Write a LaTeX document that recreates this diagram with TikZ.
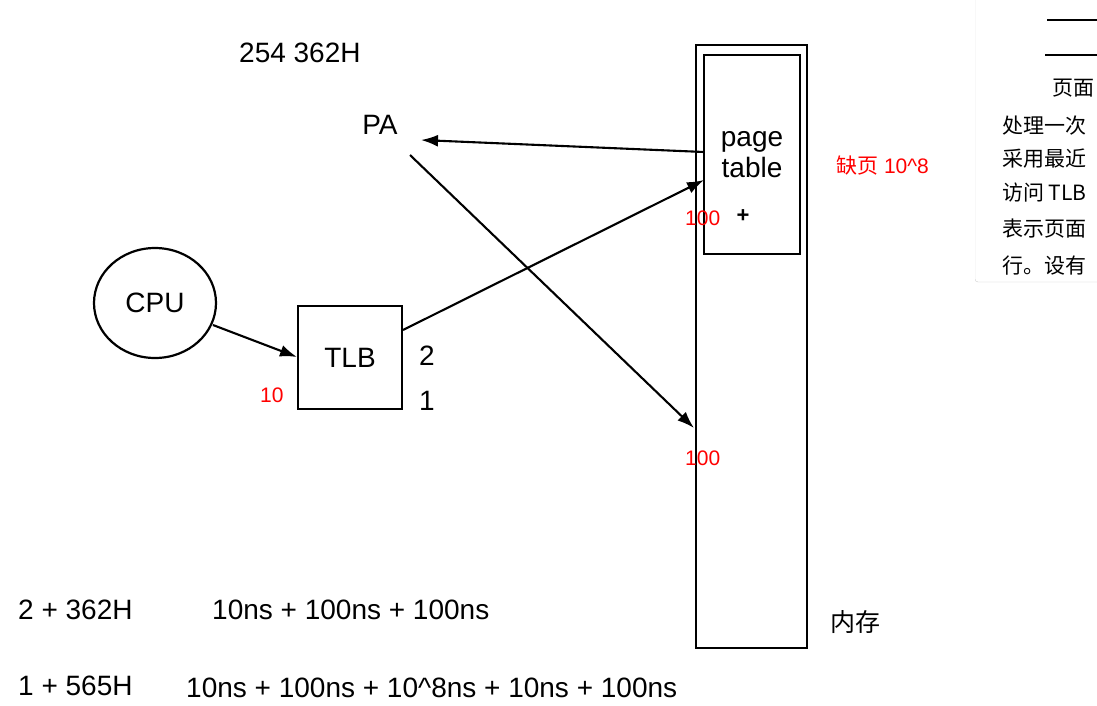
\documentclass[tikz,border=0pt]{standalone}
\usepackage{fontspec}
\setmainfont{Liberation Sans}
\newfontfamily\cjk{Noto Sans CJK SC}
\usetikzlibrary{arrows.meta,shapes.geometric}
\begin{document}
\begin{tikzpicture}[x=1pt,y=-1pt,
  box/.style={draw,line width=2.2pt},
  arr/.style={-{Latex[length=17pt,width=12pt]},line width=2.1pt},
  lab/.style={font=\fontsize{28}{31}\selectfont,inner sep=0pt},
  red/.style={text=red,font=\fontsize{21}{23}\selectfont,inner sep=0pt,anchor=west},
  cn/.style={font=\cjk\fontsize{21}{23}\selectfont,inner sep=0pt,anchor=west}]
\useasboundingbox (0,0) rectangle (1097,705);
% side panel
\begin{scope}
\clip (975,0) rectangle (1097,284);
\draw[gray!40,fill=white,rounded corners=3pt] (975,-10) rectangle (1110,282);
\draw[line width=1.2pt] (1047,20) -- (1097,20);
\draw[line width=2.5pt] (1045,55) -- (1097,55);
\node[cn] (p0) at (1052,88) {页面};
\node[cn] (p1) at (1002,126) {处理一次};
\node[cn] (p2) at (1002,159) {采用最近};
\node[cn] (p3) at (1002,193) {访问 TLB};
\node[cn] (p4) at (1002,229) {表示页面};
\node[cn] (p5) at (1002,266) {行。设有};
\end{scope}
% memory
\node[box,minimum width=111pt,minimum height=603pt,inner sep=0pt] (mem) at (751.5,346.5) {};
\node[box,minimum width=96pt,minimum height=199pt,inner sep=0pt,align=center,lab] (pt) at (752,154.5) {page\\table};
\node[font=\bfseries\fontsize{22}{22}\selectfont] (plus) at (743,216) {+};
\node[box,ellipse,minimum width=122pt,minimum height=110pt,inner sep=0pt,lab] (cpu) at (155,303) {CPU};
\node[box,minimum width=104pt,minimum height=103pt,inner sep=0pt,lab] (tlb) at (350,357.5) {TLB};
\node[lab] (pa) at (380,125) {PA};
\node[lab,anchor=west] (addr) at (239,53) {254 362H};
\node[lab] (n2) at (427,356) {2};
\node[lab] (n1) at (427,401) {1};
\node[red] (r10) at (260,395) {10};
\node[red] (r100a) at (685,218) {100};
\node[red] (r100b) at (685,458) {100};
\node[red] (miss) at (836,166) {{\cjk 缺页} 10\textasciicircum 8};
\node[font=\cjk\fontsize{25}{27}\selectfont,inner sep=0pt] (nc) at (855,622) {内存};
\node[lab,anchor=west] (l1) at (18,610) {2 + 362H};
\node[lab,anchor=west] (t1) at (212,610) {10ns + 100ns + 100ns};
\node[lab,anchor=west] (l2) at (18,686) {1 + 565H};
\node[lab,anchor=west] (t2) at (186,688) {10ns + 100ns + 10\textasciicircum 8ns + 10ns + 100ns};
% arrows
\coordinate (c1) at (213,325);
\coordinate (c2) at (297,357);
\draw[arr] (c1) -- (c2);
\coordinate (t0) at (403,330);
\coordinate (pt1) at (704,180);
\draw[arr] (t0) -- (pt1);
\coordinate (pt2) at (704,152);
\coordinate (pa1) at (421,140);
\draw[arr] (pt2) -- (pa1);
\coordinate (pa2) at (410,155);
\coordinate (m1) at (694,428);
\draw[arr] (pa2) -- (m1);
\end{tikzpicture}
\end{document}
